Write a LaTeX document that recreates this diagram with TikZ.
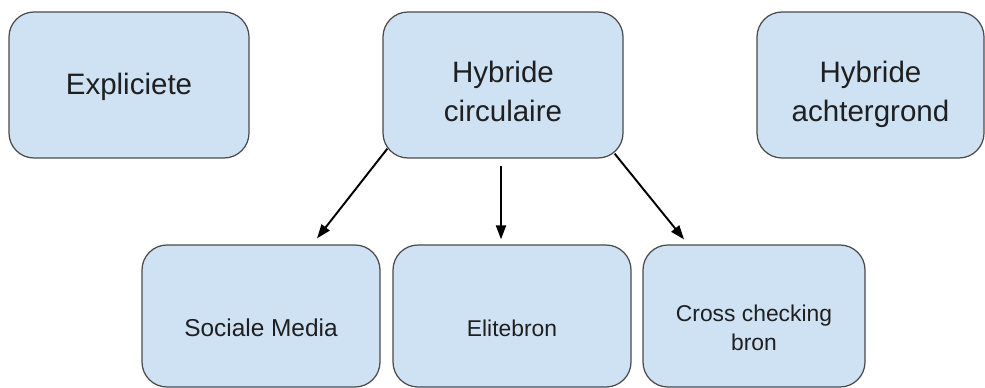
\documentclass[tikz,border=0pt]{standalone}
\usepackage{fontspec}
\setmainfont{Liberation Sans}
\usetikzlibrary{arrows.meta}

\definecolor{cardfill}{HTML}{CFE2F3}
\definecolor{cardline}{HTML}{4A4A4A}
\definecolor{cardtext}{HTML}{1F1F1F}

\begin{document}
\begin{tikzpicture}[
    card/.style={draw=cardline, fill=cardfill, rounded corners=0.5cm, line width=0.7pt, align=center, text=cardtext},
    topcard/.style={card, minimum width=4.8cm, minimum height=2.92cm, font=\fontsize{16.8}{22.2}\selectfont, text height=1.48cm, text depth=0pt},
    lowcard/.style={card, minimum height=2.84cm, font=\fontsize{13}{16}\selectfont, text height=0.8cm, text depth=0pt},
    link/.style={-{Triangle[length=0.28cm, width=0.2cm]}, line width=1.1pt}
]
    \useasboundingbox (0,0) rectangle (19.7,-7.74);

    % Top row
    \node[topcard, text height=0.5cm, text depth=0.1cm] (expl) at (2.58,-1.70) {Expliciete};
    \node[topcard] (circ) at (10.06,-1.70) {Hybride\\circulaire};
    \node[topcard, minimum width=4.54cm] (achter) at (17.41,-1.70) {Hybride\\achtergrond};

    % Bottom row
    \node[lowcard, minimum width=4.76cm, font=\fontsize{13.9}{16}\selectfont] (social) at (5.22,-6.32) {Sociale Media};
    \node[lowcard, minimum width=4.76cm] (elite) at (10.24,-6.32) {Elitebron};
    \node[lowcard, minimum width=4.44cm, text height=1.36cm] (cross) at (15.08,-6.32) {Cross checking\\bron};

    % Arrows
    \draw[link] ([xshift=0.1cm, yshift=0.2cm]circ.south west) -- ([xshift=1.12cm, yshift=0.12cm]social.north);
    \draw[link] ([xshift=-0.04cm, yshift=-0.14cm]circ.south) -- ([xshift=-0.22cm, yshift=0.1cm]elite.north);
    \draw[link] ([xshift=-0.18cm, yshift=0.1cm]circ.south east) -- ([xshift=-1.4cm, yshift=0.1cm]cross.north);
\end{tikzpicture}
\end{document}
